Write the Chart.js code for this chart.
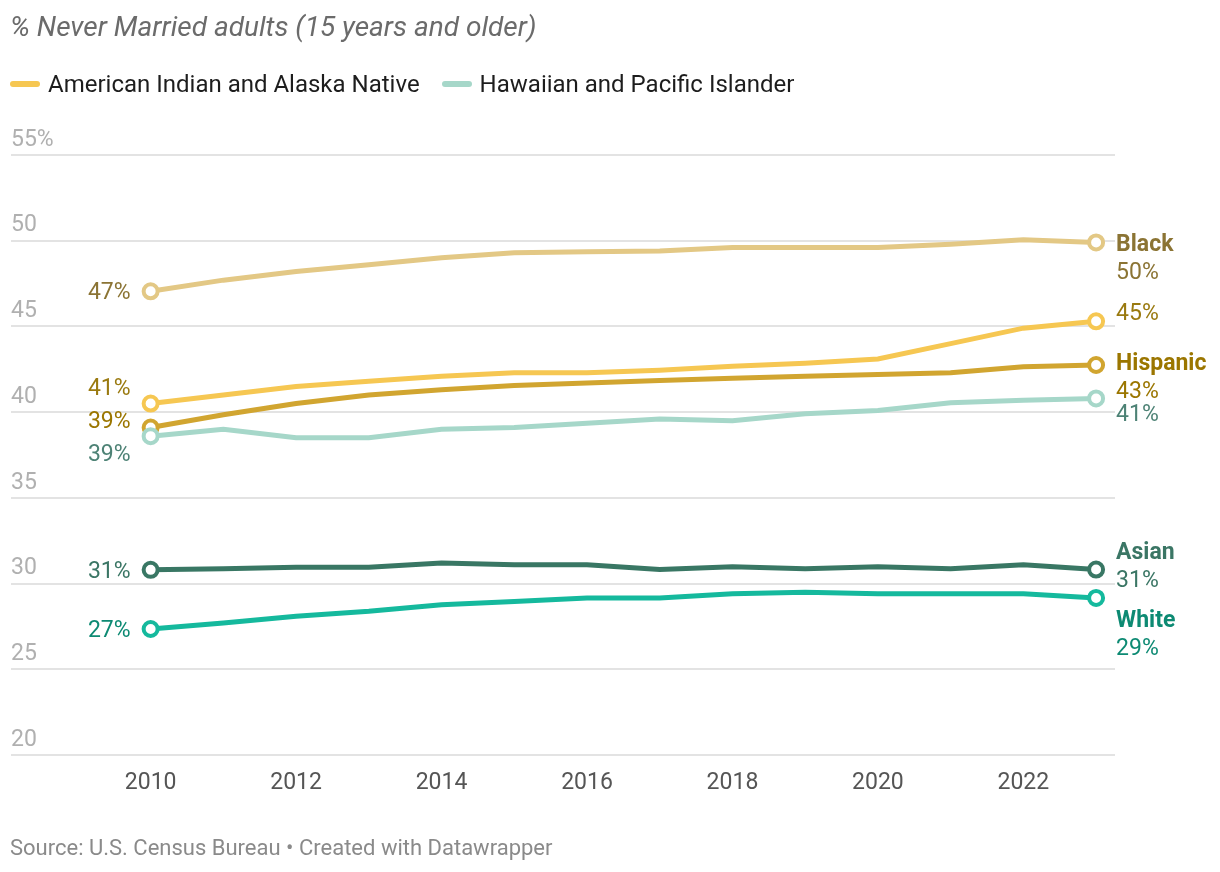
<!DOCTYPE html>
<html>
<head>
<meta charset="utf-8">
<script src="https://cdn.jsdelivr.net/npm/chart.js@4.4.1/dist/chart.umd.min.js"></script>
<style>
  body { margin: 0; background: #fff; font-family: Roboto, "Noto Sans", sans-serif; }
  #wrap { position: relative; width: 1220px; height: 872px; }
  #chart { position: absolute; left: 0; top: 0; }
  .title { position: absolute; left: 10px; top: 10px; font-size: 28px; font-style: italic; color: #6b6b6b; }
  .legend { position: absolute; left: 10px; top: 70px; font-size: 24px; color: #1d1d1d; display: flex; }
  .legend span.item { display: flex; align-items: center; margin-right: 22px; }
  .legend i { display: inline-block; width: 30px; height: 6px; border-radius: 3px; margin-right: 8px; }
  .source { position: absolute; left: 10px; top: 835px; font-size: 22px; color: #8a8a8a; }
</style>
</head>
<body>
<div id="wrap">
  <canvas id="chart" width="1220" height="872"></canvas>
  <div class="title">% Never Married adults (15 years and older)</div>
  <div class="legend">
    <span class="item"><i style="background:#f6c752"></i>American Indian and Alaska Native</span>
    <span class="item"><i style="background:#a6d7c9"></i>Hawaiian and Pacific Islander</span>
  </div>
  <div class="source">Source: U.S. Census Bureau • Created with Datawrapper</div>
</div>
<script>
// Data
const years = [2010, 2011, 2012, 2013, 2014, 2015, 2016, 2017, 2018, 2019, 2020, 2021, 2022, 2023];
const xTicks = [2010, 2012, 2014, 2016, 2018, 2020, 2022];
const yTicks = [20, 25, 30, 35, 40, 45, 50, 55];

const black    = [47.05, 47.7, 48.2, 48.6, 49.0, 49.3, 49.35, 49.4, 49.6, 49.6, 49.6, 49.8, 50.05, 49.9];
const amIndian = [40.5, 41.0, 41.5, 41.8, 42.1, 42.3, 42.3, 42.45, 42.67, 42.85, 43.1, 44.0, 44.9, 45.3];
const hispanic = [39.1, 39.85, 40.5, 41.0, 41.3, 41.56, 41.7, 41.85, 41.97, 42.1, 42.2, 42.3, 42.65, 42.75];
const hawaiian = [38.6, 39.0, 38.5, 38.5, 39.0, 39.1, 39.35, 39.6, 39.5, 39.9, 40.1, 40.55, 40.7, 40.8];
const asian    = [30.8, 30.86, 30.95, 30.95, 31.2, 31.1, 31.1, 30.82, 30.98, 30.86, 30.98, 30.86, 31.1, 30.82];
const white    = [27.35, 27.7, 28.1, 28.38, 28.77, 28.96, 29.16, 29.16, 29.4, 29.5, 29.4, 29.4, 29.4, 29.16];

// Series styling and label placement (pixel offsets from the end points)
const series = [
  { name: 'Black', values: black, line: '#e3c885', text: '#8b7434', showName: true, startDy: 0, endDy: 0 },
  { name: 'American Indian and Alaska Native', values: amIndian, line: '#f6c752', text: '#9a7a10', showName: false, startDy: -16, endDy: -10 },
  { name: 'Hawaiian and Pacific Islander', values: hawaiian, line: '#a6d7c9', text: '#4d8275', showName: false, startDy: 17, endDy: 14 },
  { name: 'Hispanic', values: hispanic, line: '#d1a530', text: '#9b7600', showName: true, startDy: -7, endDy: -4 },
  { name: 'Asian', values: asian, line: '#397764', text: '#3b7665', showName: true, startDy: 0, endDy: -19 },
  { name: 'White', values: white, line: '#15b99d', text: '#0d8a73', showName: true, startDy: 0, endDy: 20 }
];

function pct(v) { return Math.round(v) + '%'; }

const labelPlugin = {
  id: 'endLabels',
  afterDatasetsDraw(chart) {
    const ctx = chart.ctx;
    ctx.save();
    ctx.textBaseline = 'middle';
    series.forEach((s, i) => {
      const pts = chart.getDatasetMeta(i).data;
      const first = pts[0], last = pts[pts.length - 1];
      // start value
      ctx.font = '23px Roboto';
      ctx.fillStyle = s.text;
      ctx.textAlign = 'right';
      ctx.fillText(pct(s.values[0]), first.x - 20, first.y + s.startDy + 2);
      // end label
      ctx.textAlign = 'left';
      const lx = last.x + 20;
      const ly = last.y + s.endDy + 3;
      const v = pct(s.values[s.values.length - 1]);
      if (s.showName) {
        ctx.font = 'bold 23px Roboto';
        ctx.fillText(s.name, lx, ly);
        ctx.font = '23px Roboto';
        ctx.fillText(v, lx, ly + 28);
      } else {
        ctx.fillText(v, lx, ly);
      }
    });
    ctx.restore();
  }
};

const ctx = document.getElementById('chart').getContext('2d');
new Chart(ctx, {
  type: 'line',
  data: {
    datasets: series.map(s => ({
      label: s.name,
      data: years.map((y, i) => ({ x: y, y: s.values[i] })),
      borderColor: s.line,
      borderWidth: 5,
      pointRadius: c => (c.dataIndex === 0 || c.dataIndex === years.length - 1) ? 7 : 0,
      pointBackgroundColor: '#fff',
      pointBorderColor: s.line,
      pointBorderWidth: 4,
      tension: 0,
      clip: false
    }))
  },
  options: {
    responsive: false,
    animation: false,
    events: [],
    layout: { padding: { top: 155, left: 10, right: 105, bottom: 0 } },
    plugins: { legend: { display: false }, tooltip: { enabled: false } },
    scales: {
      x: {
        type: 'linear',
        min: 2008.08,
        max: 2023.26,
        afterBuildTicks: axis => { axis.ticks = xTicks.map(v => ({ value: v })); },
        afterFit: axis => { axis.height = 117; },
        grid: { display: false, drawTicks: false },
        border: { display: false },
        ticks: {
          padding: 14,
          color: '#555',
          font: { family: 'Roboto', size: 23 },
          callback: v => String(v)
        }
      },
      y: {
        min: 20,
        max: 55,
        afterBuildTicks: axis => { axis.ticks = yTicks.map(v => ({ value: v })); },
        afterFit: axis => { axis.width = 0; },
        grid: { color: '#e3e3e3', lineWidth: 2, drawTicks: false },
        border: { display: false },
        ticks: {
          mirror: true,
          padding: 0,
          labelOffset: -15,
          color: '#b0b0b0',
          font: { family: 'Roboto', size: 23 },
          callback: v => v === 55 ? '55%' : String(v)
        }
      }
    }
  },
  plugins: [labelPlugin]
});
</script>
</body>
</html>
